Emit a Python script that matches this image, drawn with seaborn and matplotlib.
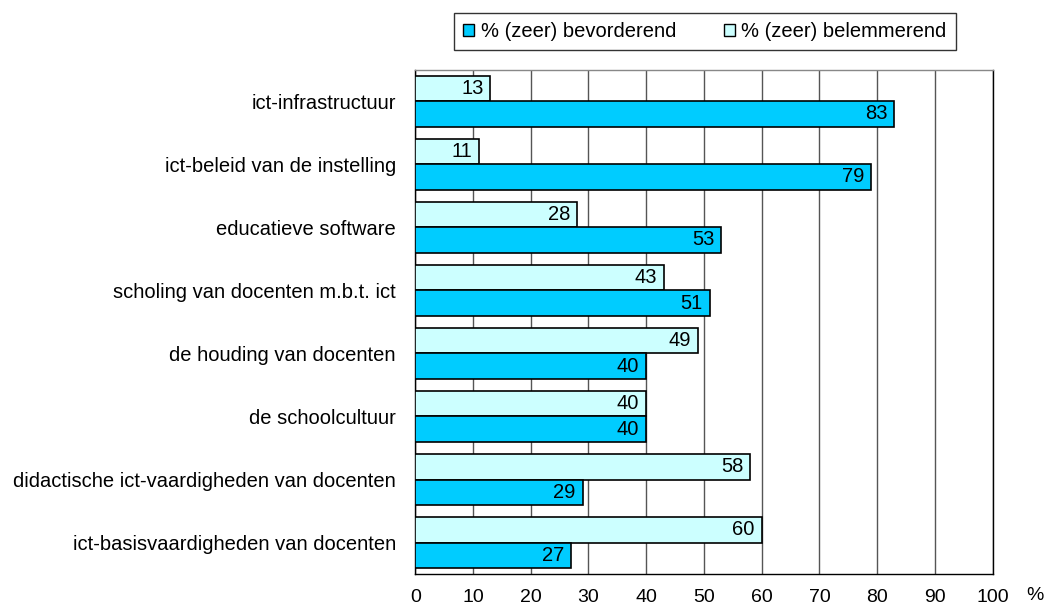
import matplotlib
matplotlib.use('Agg')
import matplotlib.pyplot as plt
import seaborn as sns
import pandas as pd
from matplotlib.patches import Patch

categories = [
    "ict-infrastructuur",
    "ict-beleid van de instelling",
    "educatieve software",
    "scholing van docenten m.b.t. ict",
    "de houding van docenten",
    "de schoolcultuur",
    "didactische ict-vaardigheden van docenten",
    "ict-basisvaardigheden van docenten",
]
bevorderend = [83, 79, 53, 51, 40, 40, 29, 27]
belemmerend = [13, 11, 28, 43, 49, 40, 58, 60]

lbl_bev = "% (zeer) bevorderend"
lbl_bel = "% (zeer) belemmerend"
col_bev = "#00CCFF"
col_bel = "#CCFFFF"

df = pd.DataFrame({
    "categorie": categories * 2,
    "waarde": belemmerend + bevorderend,
    "reeks": [lbl_bel] * len(categories) + [lbl_bev] * len(categories),
})

sns.set_style("white")
plt.rcParams['font.family'] = ['Liberation Sans', 'DejaVu Sans']
plt.rcParams['text.color'] = 'black'
plt.rcParams['xtick.color'] = 'black'
plt.rcParams['ytick.color'] = 'black'

fig = plt.figure(figsize=(10.46, 6.12), dpi=100)
ax = fig.add_axes([0.397, 0.062, 0.552, 0.824])

sns.barplot(data=df, y="categorie", x="waarde", hue="reeks",
            hue_order=[lbl_bel, lbl_bev], order=categories,
            palette={lbl_bel: col_bel, lbl_bev: col_bev}, saturation=1,
            orient="h", width=0.8, edgecolor="black", linewidth=1.2,
            legend=False, ax=ax, zorder=3)

# labels inside the bar end, right aligned
for cont in ax.containers:
    for t in ax.bar_label(cont, padding=-5, fontsize=14.5, color="black"):
        t.set_horizontalalignment("right")
        t.set_zorder(4)

ax.set_xlim(0, 100)
ax.set_xticks(range(0, 101, 10))
ax.xaxis.grid(True, color="#555555", linewidth=1, zorder=0)
ax.set_axisbelow(True)
ax.set_xlabel("")
ax.set_ylabel("")
ax.tick_params(axis="x", length=0, pad=11, labelsize=14)
ax.tick_params(axis="y", length=0, pad=14, labelsize=14.5)
for s in ax.spines.values():
    s.set_color("black")
    s.set_linewidth(1)
ax.spines["top"].set_color("#888888")

fig.text(1035 / 1046, 1 - 596 / 612, "%", fontsize=14, ha="center", va="center")

handles = [Patch(facecolor=col_bev, edgecolor="black", label=lbl_bev),
           Patch(facecolor=col_bel, edgecolor="black", label=lbl_bel)]
leg = fig.legend(handles=handles, loc="center", bbox_to_anchor=(0.674, 0.949),
                 ncol=2, fontsize=14.5, frameon=True, fancybox=False,
                 handlelength=0.55, handleheight=0.55, handletextpad=0.3,
                 columnspacing=2.4, borderpad=0.45, borderaxespad=0)
leg.get_frame().set_edgecolor("black")
leg.get_frame().set_linewidth(1)

fig.savefig("out.png", dpi=100)
